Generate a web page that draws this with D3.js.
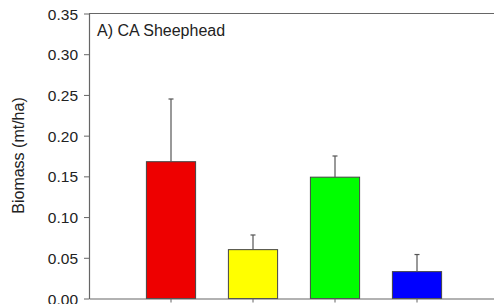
<!DOCTYPE html>
<html><head><meta charset="utf-8">
<script src="https://cdn.jsdelivr.net/npm/d3@7"></script>
<style>body{margin:0;background:#fff}svg{display:block}text{font-family:"Liberation Sans",Arial,sans-serif}</style>
</head><body><svg id="c" width="494" height="304"></svg>
<script>
const categories = ["Group 1","Group 2","Group 3","Group 4"];
const values = [0.168, 0.060, 0.149, 0.033];
const errors = [0.077, 0.018, 0.026, 0.021];
const colors = ["#ee0000","#ffff00","#00ff00","#0000ff"];
const yTicks = [0,0.05,0.10,0.15,0.20,0.25,0.30,0.35];
const title = "A) CA Sheephead";
const yLabel = "Biomass (mt/ha)";

const svg = d3.select("#c");
const mLeft = 89, mRight = 499, mTop = 13.5, mBottom = 298.5;
const x = d3.scaleBand().domain(categories).range([mLeft, mRight]).paddingInner(0.4).paddingOuter(0.7);
const y = d3.scaleLinear().domain([0,0.35]).range([mBottom, mTop]);
const axisColor = "#666";

// frame top line
svg.append("line").attr("x1",mLeft).attr("x2",mRight).attr("y1",mTop).attr("y2",mTop).attr("stroke",axisColor).attr("stroke-width",1.2);

// bars
svg.selectAll("rect.bar").data(categories).join("rect").attr("class","bar")
  .attr("x",d=>x(d)).attr("width",x.bandwidth())
  .attr("y",(d,i)=>y(values[i])).attr("height",(d,i)=>y(0)-y(values[i]))
  .attr("fill",(d,i)=>colors[i]).attr("stroke","#444").attr("stroke-width",1);

// error bars
const cx = d=>x(d)+x.bandwidth()/2;
svg.selectAll("line.err").data(categories).join("line").attr("class","err")
  .attr("x1",cx).attr("x2",cx)
  .attr("y1",(d,i)=>y(values[i])).attr("y2",(d,i)=>y(values[i]+errors[i]))
  .attr("stroke","#555").attr("stroke-width",1.2);
svg.selectAll("line.cap").data(categories).join("line").attr("class","cap")
  .attr("x1",d=>cx(d)-2.5).attr("x2",d=>cx(d)+2.5)
  .attr("y1",(d,i)=>y(values[i]+errors[i])).attr("y2",(d,i)=>y(values[i]+errors[i]))
  .attr("stroke","#555").attr("stroke-width",1.2);

// y axis
const ya = svg.append("g").attr("transform",`translate(${mLeft},0)`)
  .call(d3.axisLeft(y).tickValues(yTicks).tickFormat(d3.format(".2f")).tickSize(5).tickSizeOuter(0));
ya.select(".domain").attr("stroke",axisColor).attr("stroke-width",1.2);
ya.selectAll(".tick line").attr("stroke",axisColor);
ya.selectAll(".tick text").attr("font-size",15.5).attr("fill","#222").attr("x",-11).attr("dy","0.36em")
  .style("font-family",'"Liberation Sans",Arial,sans-serif');

// x axis
const xa = svg.append("g").attr("transform",`translate(0,${mBottom})`)
  .call(d3.axisBottom(x).tickSize(4).tickSizeOuter(0).tickFormat(""));
xa.select(".domain").attr("stroke",axisColor).attr("stroke-width",1.2);
xa.selectAll(".tick line").attr("stroke",axisColor);

// title
svg.append("text").attr("x",97).attr("y",35.5).attr("font-size",16).attr("fill","#222").text(title);
// y label
svg.append("text").attr("transform","translate(23.5,155.5) rotate(-90)").attr("text-anchor","middle")
  .attr("font-size",16).attr("fill","#222").text(yLabel);
</script></body></html>
